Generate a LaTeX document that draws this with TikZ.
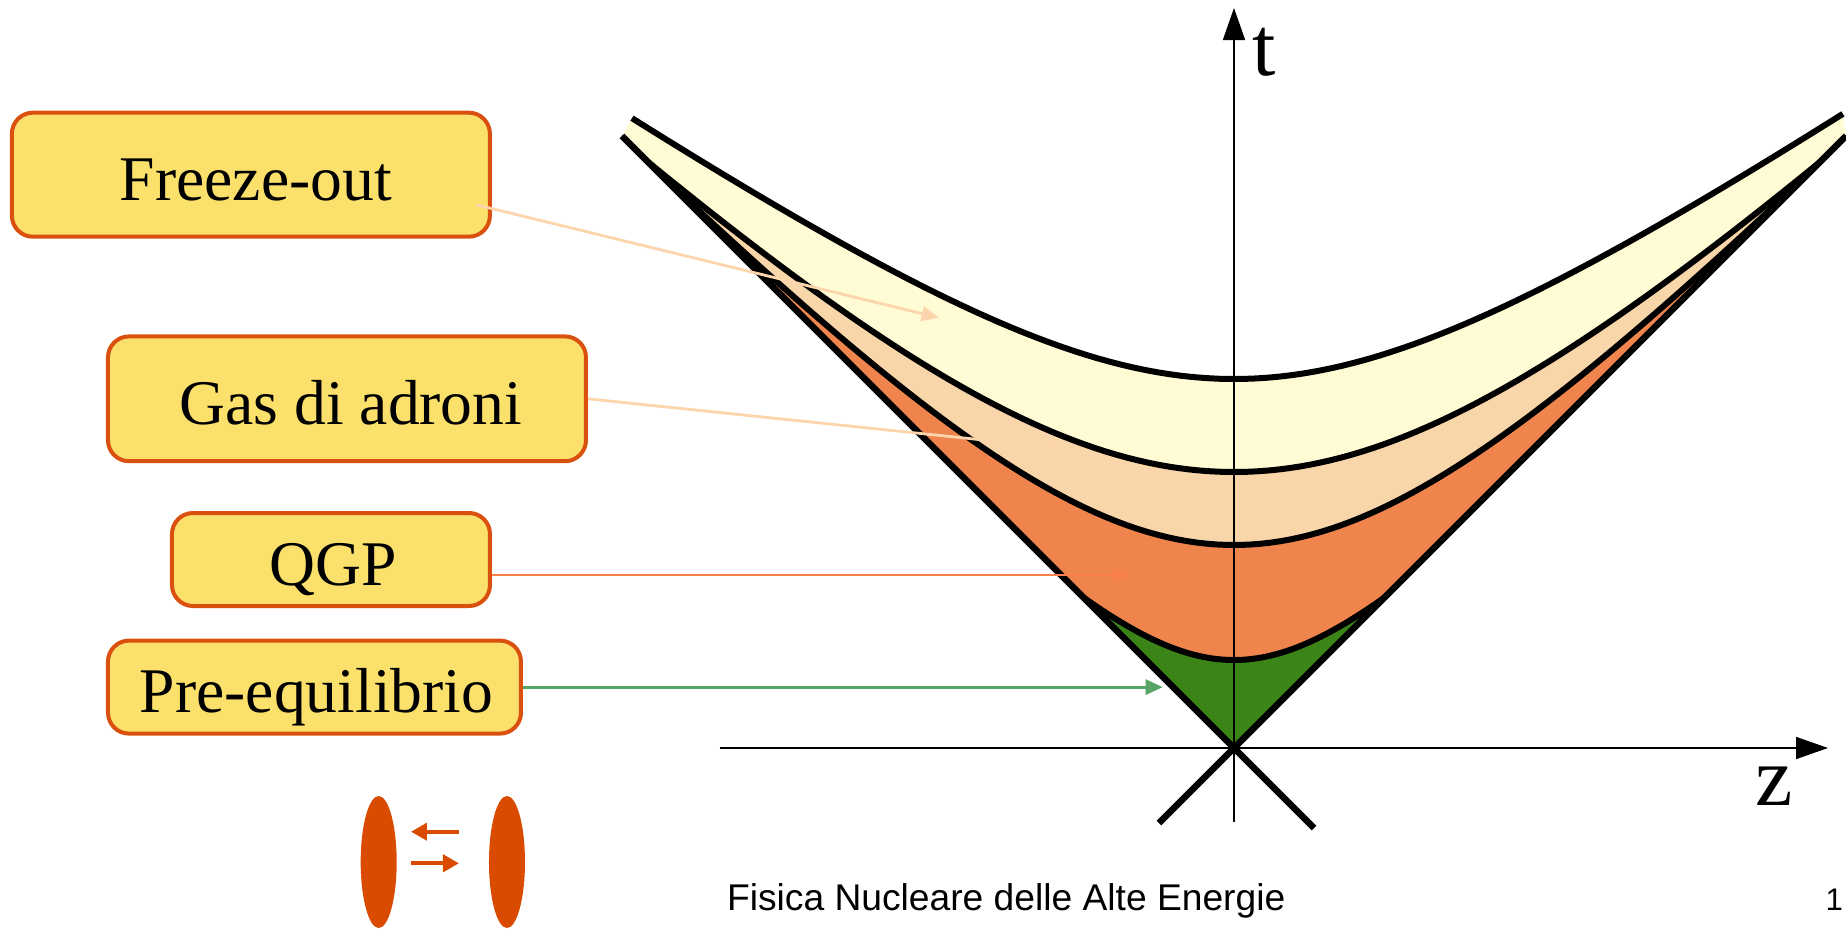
\documentclass[tikz,border=0pt]{standalone}
\usepackage{fontspec}
\setmainfont{Liberation Serif}
\newfontfamily\slidefont{Liberation Sans}
\usetikzlibrary{arrows.meta}
\definecolor{labelfill}{HTML}{FBE16B}
\definecolor{labeledge}{HTML}{D9500F}
\definecolor{fzfill}{HTML}{FFFCD5}
\definecolor{hgfill}{HTML}{F9D5AA}
\definecolor{qgpfill}{HTML}{EF844D}
\definecolor{prefill}{HTML}{3B8518}
\definecolor{hgarrow}{HTML}{FCD5AC}
\definecolor{qgparrow}{HTML}{FA7F4C}
\definecolor{prearrow}{HTML}{57A566}
\definecolor{nucleus}{HTML}{D84B00}

\begin{document}
\begin{tikzpicture}[x=50pt, y=50pt,
    phase/.style={draw=labeledge, line width=2pt, fill=labelfill,
      rounded corners=10.5pt, inner sep=0pt, text height=25.8pt, text depth=0pt,
      font=\fontsize{31.8}{36}\selectfont},
    pointer/.style={line width=1.4pt, -{Triangle[length=8.5pt, width=7.5pt]}},
    beam/.style={nucleus, line width=2pt, -{Triangle[length=8pt, width=8.5pt]}},
    axis/.style={line width=0.8pt, -{Triangle[length=16pt, width=11pt]}},
    bound/.style={line width=3pt, line join=round},
    cone/.style={line width=3.2pt}]

  \useasboundingbox (-12.34,-1.80) rectangle (6.12,7.48);

  % -- one unit is 100 px of the slide, the collision point sits at the origin.
  %    every boundary is t = tau + c*(sqrt(1+(z/w)^2)-1): flat at z=0, opening
  %    towards the light cone further out.
  %    freeze-out layer first, from the outer curve down to the cone
  \fill[fzfill] (-6.12,6.12) -- (0,0) -- (6.12,6.12)
    -- plot[domain=6.09:-6.02, samples=100] (\x,{3.69+2.1*(sqrt(1+(\x/3)^2)-1)})
    -- cycle;

  % the inner layers, kept inside the forward cone
  \begin{scope}
    \clip (0,0) -- (6.12,6.12) -- (6.12,7) -- (-6.12,7) -- (-6.12,6.12) -- cycle;
    \foreach \tv/\cv/\wv/\dz/\col in {2.76/3.7/3.8/6.12/hgfill,
                                      2.03/3.2/3.0/6.12/qgpfill,
                                      0.88/1.5/1.5/1.8/prefill}{
      \filldraw[bound, fill=\col]
        plot[domain=-\dz:\dz, samples=120] (\x,{\tv+\cv*(sqrt(1+(\x/\wv)^2)-1)})
        -- (0,0) -- cycle;}
  \end{scope}

  % outer freeze-out curve
  \draw[bound] plot[domain=-6.02:6.09, samples=100] (\x,{3.69+2.1*(sqrt(1+(\x/3)^2)-1)});

  % light cone
  \draw[cone] (-6.12,6.12) -- (0.80,-0.80);
  \draw[cone] (6.12,6.12) -- (-0.75,-0.75);

  % axes
  \coordinate (tbot) at (0,-0.74);
  \coordinate (ttop) at (0,7.40);
  \coordinate (zleft) at (-5.14,0);
  \coordinate (zright) at (5.94,0);
  \draw[axis] (tbot) -- (ttop);
  \draw[axis] (zleft) -- (zright);
  \node[anchor=base west, inner sep=0pt, font=\fontsize{42}{48}\selectfont]
    (tlab) at (0.18,6.73) {t};
  \node[anchor=base west, inner sep=0pt, font=\fontsize{42}{48}\selectfont]
    (zlab) at (5.215,-0.57) {z};

  % -- labels on the left and their pointers
  \node[phase, minimum width=239pt, minimum height=62pt] (fo) at (-9.831,5.733) {\hspace*{5pt}Freeze-out};
  \node[phase, minimum width=239pt, minimum height=62.4pt] (hg) at (-8.87,3.492) {\hspace*{4pt}Gas di adroni};
  \node[phase, minimum width=159pt, minimum height=46.5pt] (qgp) at (-9.03,1.885) {\hspace*{2pt}QGP};
  \node[phase, minimum width=206.5pt, minimum height=46.5pt] (pre) at (-9.195,0.609) {\hspace*{2pt}Pre-equilibrio};

  \coordinate (fotip) at (-2.953,4.303);
  \coordinate (hgtip) at (-1.71,2.997);
  \coordinate (qgptip) at (-1.04,1.73);
  \coordinate (pretip) at (-0.713,0.609);
  \draw[pointer, hgarrow, shorten <=-8pt] (fo.-8) -- (fotip);
  \draw[pointer, hgarrow] (hg.east) -- (hgtip);
  \draw[pointer, qgparrow] (qgp.east |- qgptip) -- (qgptip);
  \draw[pointer, prearrow] (pre.east) -- (pretip);

  % -- the two nuclei flying at each other
  \fill[nucleus] (-8.553,-1.14) ellipse [x radius=9pt, y radius=33pt];
  \fill[nucleus] (-7.27,-1.14) ellipse [x radius=9pt, y radius=33pt];
  \coordinate (inA) at (-8.23,-0.837);
  \coordinate (inB) at (-7.75,-0.837);
  \coordinate (outA) at (-8.23,-1.153);
  \coordinate (outB) at (-7.75,-1.153);
  \draw[beam] (inB) -- (inA);
  \draw[beam] (outA) -- (outB);

  % footer of the slide
  \node[anchor=base west, inner sep=0pt, font=\slidefont\fontsize{18.6}{22}\selectfont]
    (footer) at (-5.073,-1.62) {Fisica Nucleare delle Alte Energie};
  \node[anchor=base east, inner sep=0pt, font=\slidefont\fontsize{15.6}{18}\selectfont]
    (pagenum) at (6.093,-1.627) {1};

\end{tikzpicture}
\end{document}
